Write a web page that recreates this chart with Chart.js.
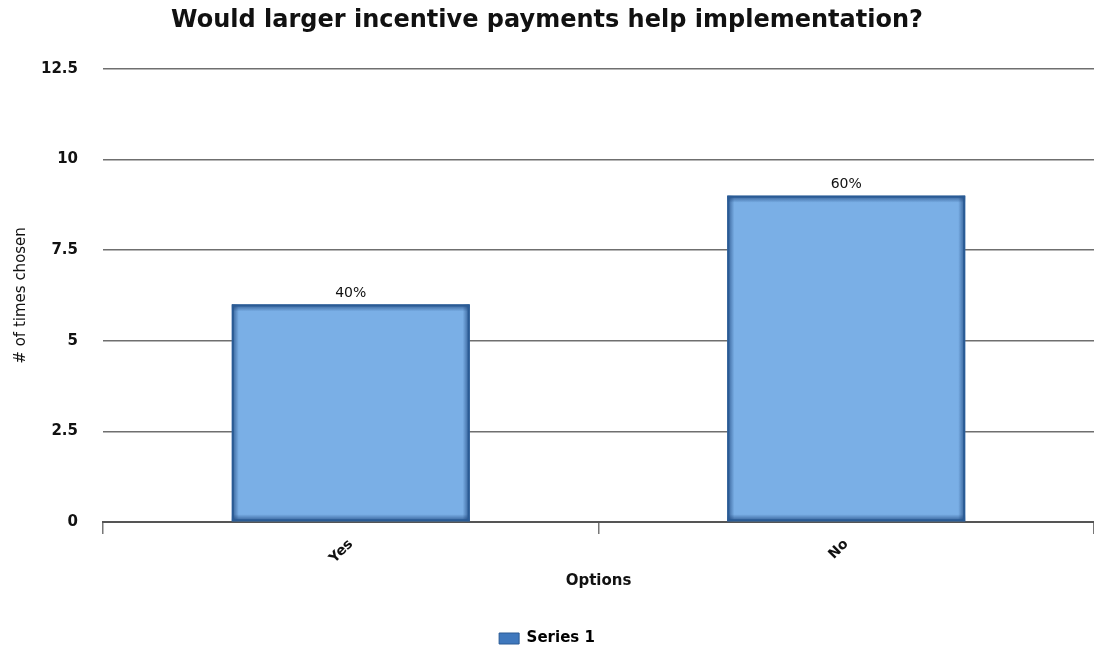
<!DOCTYPE html>
<html>
<head>
<meta charset="utf-8">
<title>Incentive payments</title>
<script src="https://cdn.jsdelivr.net/npm/chart.js@4/dist/chart.umd.min.js"></script>
<style>
  html, body { margin: 0; padding: 0; background: #fff; }
  #wrap { width: 1094px; height: 652px; }
</style>
</head>
<body>
<div id="wrap"><canvas id="myChart" width="1094" height="652"></canvas></div>
<script>
const categories = ["Yes", "No"];
const seriesName = "Series 1";
const seriesValues = [6, 9];
const yTickValues = [0, 2.5, 5, 7.5, 10, 12.5];

const FONT = "'DejaVu Sans', sans-serif";
const barFill = "#7aafe6";
const barEdge = "#2a5b95";

// percentage of the total written above each bar
const percentLabels = {
    id: "percentLabels",
    afterDatasetsDraw(chart) {
        const ctx = chart.ctx;
        const data = chart.data.datasets[0].data;
        const total = data.reduce((a, b) => a + b, 0);
        const meta = chart.getDatasetMeta(0);
        ctx.save();
        ctx.font = "14px " + FONT;
        ctx.fillStyle = "#111";
        ctx.textAlign = "center";
        ctx.textBaseline = "bottom";
        meta.data.forEach((bar, i) => {
            const pct = Math.round(data[i] / total * 100) + "%";
            ctx.fillText(pct, bar.x, bar.y - 4);
        });
        ctx.restore();
    }
};

// darker inset shading along the bar edges
const barShade = {
    id: "barShade",
    afterDatasetsDraw(chart) {
        const ctx = chart.ctx;
        const meta = chart.getDatasetMeta(0);
        const d = 7;
        ctx.save();
        meta.data.forEach(bar => {
            const l = bar.x - bar.width / 2, r = bar.x + bar.width / 2;
            const t = bar.y, b = bar.base;
            const edges = [
                [l, t, l + d, t, l, t, d, b - t],
                [r, t, r - d, t, r - d, t, d, b - t],
                [l, t, l, t + d, l, t, r - l, d],
                [l, b, l, b - d, l, b - d, r - l, d]
            ];
            edges.forEach(e => {
                const g = ctx.createLinearGradient(e[0], e[1], e[2], e[3]);
                g.addColorStop(0, "rgba(30,70,125,0.8)");
                g.addColorStop(1, "rgba(30,70,125,0)");
                ctx.fillStyle = g;
                ctx.fillRect(e[4], e[5], e[6], e[7]);
            });
            ctx.strokeStyle = barEdge;
            ctx.lineWidth = 2;
            ctx.strokeRect(l + 1, t + 1, r - l - 2, b - t - 2);
        });
        ctx.restore();
    }
};

const ctx = document.getElementById("myChart").getContext("2d");
const myChart = new Chart(ctx, {
    type: "bar",
    data: {
        labels: categories,
        datasets: [{
            label: seriesName,
            data: seriesValues,
            backgroundColor: barFill,
            borderColor: barEdge,
            borderWidth: 0,
            barPercentage: 0.6,
            categoryPercentage: 0.8
        }]
    },
    options: {
        responsive: false,
        animation: false,
        layout: { padding: { left: 0, right: 0, top: 0, bottom: -4 } },
        plugins: {
            title: {
                display: true,
                text: "Would larger incentive payments help implementation?",
                color: "#111",
                font: { family: FONT, size: 24, weight: "bold" },
                padding: { top: 6, bottom: 34 }
            },
            legend: {
                position: "bottom",
                labels: {
                    color: "#111",
                    font: { family: FONT, size: 15, weight: "bold" },
                    boxWidth: 20,
                    boxHeight: 11,
                    padding: 5,
                    generateLabels: () => [{
                        text: seriesName,
                        fillStyle: "#3f78bd",
                        strokeStyle: barEdge,
                        lineWidth: 1
                    }]
                }
            },
            tooltip: { enabled: false }
        },
        scales: {
            x: {
                afterFit: s => { s.height = 104; },
                grid: {
                    display: true,
                    drawOnChartArea: false,
                    offset: true,
                    tickLength: 12,
                    color: "#777",
                    lineWidth: 1.5
                },
                border: { display: true, color: "#555", width: 2 },
                ticks: {
                    minRotation: 45,
                    maxRotation: 45,
                    padding: 2,
                    color: "#111",
                    font: { family: FONT, size: 14, weight: "bold" }
                },
                title: {
                    display: true,
                    text: "Options",
                    color: "#111",
                    font: { family: FONT, size: 15, weight: "bold" },
                    padding: { top: 8, bottom: 36 }
                }
            },
            y: {
                min: 0,
                max: 12.5,
                afterFit: s => { s.width = 103; },
                afterBuildTicks: s => { s.ticks = yTickValues.map(v => ({ value: v })); },
                grid: {
                    drawTicks: false,
                    color: "#6f6f6f",
                    lineWidth: 1.5
                },
                border: { display: false },
                ticks: {
                    padding: 25,
                    color: "#111",
                    font: { family: FONT, size: 15, weight: "bold" },
                    callback: v => String(v)
                },
                title: {
                    display: true,
                    text: "# of times chosen",
                    color: "#111",
                    font: { family: FONT, size: 15 },
                    padding: { top: 12, bottom: 0 }
                }
            }
        }
    },
    plugins: [barShade, percentLabels]
});
</script>
</body>
</html>
